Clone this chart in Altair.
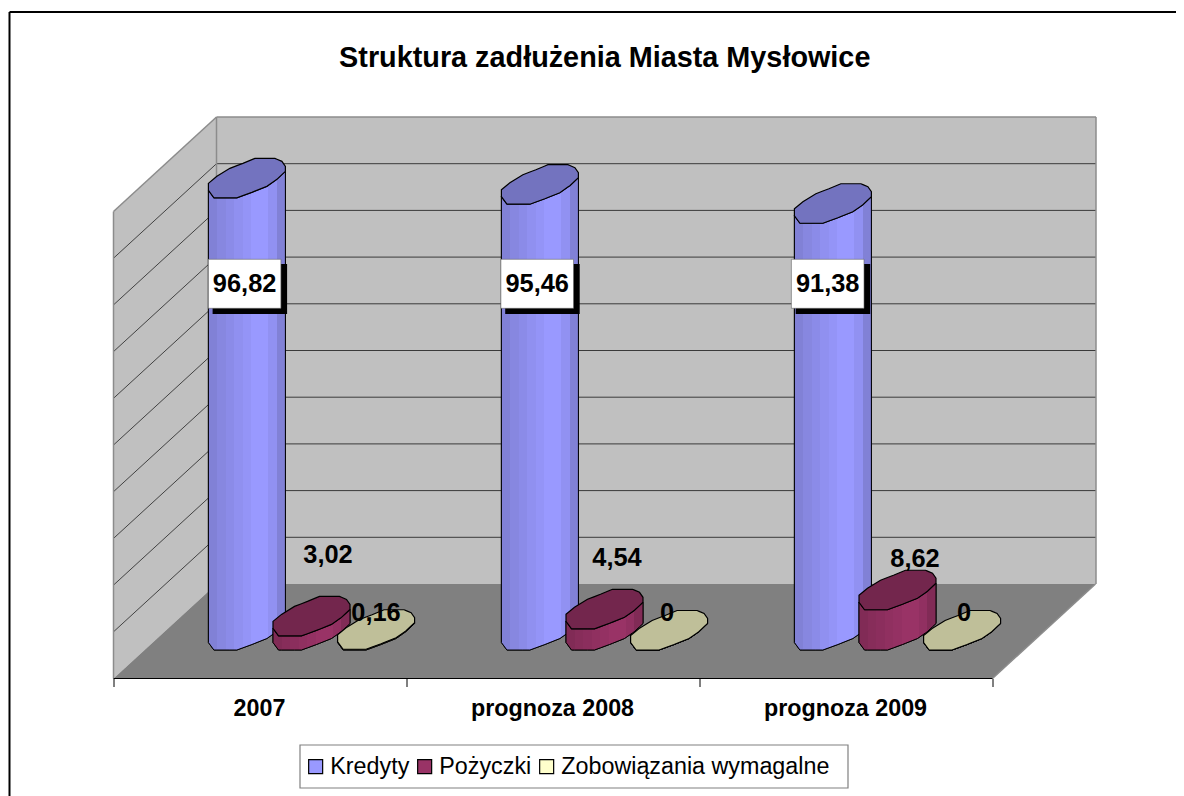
import altair as alt
import pandas as pd

categories = ["2007", "prognoza 2008", "prognoza 2009"]
series_names = ["Kredyty", "Pożyczki", "Zobowiązania wymagalne"]
kredyty = [96.82, 95.46, 91.38]
pozyczki = [3.02, 4.54, 8.62]
zobowiazania = [0.16, 0, 0]
series_values = [kredyty, pozyczki, zobowiazania]
title_text = "Struktura zadłużenia Miasta Mysłowice"

FONT = "Liberation Sans"
X0, STEP, Y0, UNIT = 113.5, 293.0, 584.0, 4.67
RIGHT, TOP, BOTTOM = 1096.0, 116.7, 678.5


def px(p):
    return (p - X0) / STEP


def py(p):
    return (Y0 - p) / UNIT


DX = px(216.5)            # depth shift of the back wall, in category units
DV = py(BOTTOM)           # depth shift of the front edge, in value units
x_dom = [0, px(RIGHT)]
y_dom = [DV, py(TOP)]

axis_x = alt.Axis(
    values=[0, 1, 2, 3], title=None, grid=False, domain=False, ticks=True,
    tickColor="#000000", tickSize=8, tickWidth=1, labelFont=FONT, labelFontSize=23.3,
    labelFontWeight="bold", labelColor="#000000", labelPadding=11, labelOffset=145.5,
    labelAlign="center", labelOverlap=False, labelFlush=False,
    labelExpr="datum.value < 3 ? ['2007','prognoza 2008','prognoza 2009'][datum.value] : ''",
)


def X(f="x"):
    return alt.X(f"{f}:Q", scale=alt.Scale(domain=x_dom, nice=False, zero=False), axis=axis_x)


def Y(f="y"):
    return alt.Y(f"{f}:Q", scale=alt.Scale(domain=y_dom, nice=False, zero=False), axis=None)


layers = []


def seg_layer(rows, color, width):
    return alt.Chart(pd.DataFrame(rows)).mark_rule(color=color, strokeWidth=width).encode(
        x=X(), x2="x2:Q", y=Y(), y2="y2:Q")


def area_layer(rows, **mark):
    return alt.Chart(pd.DataFrame(rows)).mark_area(orient="vertical", **mark).encode(
        x=X(), y=Y(), y2="y2:Q", detail="id:N")


# walls and floor
back = [{"id": 0, "x": DX, "y": 100, "y2": 0}, {"id": 0, "x": px(RIGHT), "y": 100, "y2": 0}]
left = [{"id": 0, "x": 0, "y": 100 + DV, "y2": DV}, {"id": 0, "x": DX, "y": 100, "y2": 0}]
floor = [
    {"id": 0, "x": 0, "y": DV, "y2": DV},
    {"id": 0, "x": DX, "y": 0, "y2": DV},
    {"id": 0, "x": 3, "y": 0, "y2": DV},
    {"id": 0, "x": 3 + DX, "y": 0, "y2": 0},
]
layers.append(area_layer(back, color="#C0C0C0"))
layers.append(area_layer(left, color="#C0C0C0"))
layers.append(area_layer(floor, color="#808080"))

grid_levels = list(range(10, 100, 10))
layers.append(seg_layer([{"x": DX, "x2": px(RIGHT), "y": v, "y2": v} for v in grid_levels], "#3a3a3a", 1))
layers.append(seg_layer([{"x": 0, "x2": DX, "y": v + DV, "y2": v} for v in grid_levels], "#222222", 0.8))
layers.append(seg_layer([
    {"x": 0, "x2": DX, "y": 100 + DV, "y2": 100},
    {"x": DX, "x2": px(RIGHT), "y": 100, "y2": 100},
    {"x": 0, "x2": 0, "y": 100 + DV, "y2": DV},
    {"x": DX, "x2": DX, "y": 100, "y2": 0},
    {"x": px(RIGHT), "x2": px(RIGHT), "y": 100, "y2": 0},
    {"x": 3, "x2": 3 + DX, "y": DV, "y2": 0},
], "#8c8c8c", 1.5))
layers.append(seg_layer([{"x": 0, "x2": 3, "y": DV, "y2": DV}], "#000000", 1))

# cylinders: outline of the tilted end cap, offsets in pixels from its centre
BASE = py(630.5)
GAP = 64.6 / STEP
cap_upper = [(-38.5, -5), (-30, 2), (-17, 10), (-4, 15), (8, 20), (28, 20), (35, 17), (38.5, 12)]
cap_lower = [(-38.5, -12), (-33, -19.5), (-10, -19.5), (5, -14), (20, -8), (30, -1), (38.5, 7)]


def interp(points, xv):
    for (a, b), (c, d) in zip(points, points[1:]):
        if a <= xv <= c:
            return b + (d - b) * (xv - a) / (c - a)
    return points[-1][1]


offsets = sorted({p[0] for p in cap_upper} | {p[0] for p in cap_lower})
base_colors = [(0x99, 0x99, 0xFF), (0x99, 0x33, 0x66), (0xFF, 0xFF, 0xCC)]
strip_factors = [0.84, 0.88, 0.91, 0.94, 0.97, 1.0, 1.0, 0.95, 0.84]
tops = ["#7373BF", "#73264D", "#BFBF99"]
color_scale = alt.Scale(domain=series_names, range=["#9999FF", "#993366", "#FFFFCC"])
legend = alt.Legend(
    title=None, orient="none", legendX=304 - X0, legendY=755 - TOP, direction="horizontal", columns=3,
    symbolType="square", symbolSize=196, symbolStrokeColor="#000000", symbolStrokeWidth=1.2, symbolOpacity=1,
    labelFont=FONT, labelFontSize=23.3, labelColor="#000000", labelOffset=3, columnPadding=3,
    padding=0, labelLimit=400, symbolOffset=0, zindex=1,
)


def strip_stops(rgb):
    stops = []
    n = len(strip_factors)
    for i, f in enumerate(strip_factors):
        col = "#%02X%02X%02X" % tuple(int(round(c * f)) for c in rgb)
        stops.append(alt.GradientStop(offset=i / n, color=col))
        stops.append(alt.GradientStop(offset=(i + 1) / n, color=col))
    return stops


for si, name in enumerate(series_names):
    body, top = [], []
    for ci, val in enumerate(series_values[si]):
        cx = ci + 0.5 + DX / 2 + (si - 1) * GAP
        for off in offsets:
            lo, hi = interp(cap_lower, off), interp(cap_upper, off)
            xv = cx + off / STEP
            body.append({"id": ci, "name": name, "x": xv,
                         "y": BASE + val + lo / UNIT, "y2": BASE + lo / UNIT})
            top.append({"id": ci, "x": xv, "y": BASE + val + hi / UNIT, "y2": BASE + val + lo / UNIT})
    flat = alt.Chart(pd.DataFrame(body)).mark_area(orient="vertical", stroke="#000000", strokeWidth=1).encode(
        x=X(), y=Y(), y2="y2:Q", detail="id:N",
        color=alt.Color("name:N", scale=color_scale, legend=legend))
    layers.append(flat)
    layers.append(area_layer(body, stroke="#000000", strokeWidth=1,
                             color=alt.LinearGradient(gradient="linear", x1=0, x2=1, y1=0, y2=0,
                                                      stops=strip_stops(base_colors[si]))))
    layers.append(area_layer(top, color=tops[si], stroke="#000000", strokeWidth=1.2))

# boxed labels of the first series
box_centers = [244.6, 537.2, 827.7]
shadow_rows = [{"x": px(c - 32), "x2": px(c + 42.5), "y": py(264), "y2": py(314)} for c in box_centers]
box_rows = [{"x": px(c - 36.3), "x2": px(c + 36.3), "y": py(259.3), "y2": py(308.3)} for c in box_centers]
layers.append(alt.Chart(pd.DataFrame(shadow_rows)).mark_rect(color="#000000").encode(
    x=X(), x2="x2:Q", y=Y(), y2="y2:Q"))
layers.append(alt.Chart(pd.DataFrame(box_rows)).mark_rect(color="#FFFFFF", stroke="#666666", strokeWidth=0.6).encode(
    x=X(), x2="x2:Q", y=Y(), y2="y2:Q"))


def fmt(v):
    return f"{v:g}".replace(".", ",")


label_rows = []
for c, v in zip(box_centers, kredyty):
    label_rows.append({"x": px(c), "y": py(284), "t": fmt(v)})
for (a, b), v in zip([(328, 555), (617, 558), (915, 559)], pozyczki):
    label_rows.append({"x": px(a), "y": py(b), "t": fmt(v)})
for (a, b), v in zip([(376, 613), (667, 613), (964, 613)], zobowiazania):
    label_rows.append({"x": px(a), "y": py(b), "t": fmt(v)})
layers.append(alt.Chart(pd.DataFrame(label_rows)).mark_text(
    font=FONT, fontSize=25.4, fontWeight="bold", color="#000000", align="center", baseline="middle"
).encode(x=X(), y=Y(), text="t:N"))

# legend frame
layers.append(alt.Chart(pd.DataFrame([{"x": px(300), "x2": px(848), "y": py(745), "y2": py(788)}])).mark_rect(
    color="#FFFFFF", stroke="#808080", strokeWidth=1.2).encode(x=X(), x2="x2:Q", y=Y(), y2="y2:Q"))

# outer frame
layers.append(seg_layer([
    {"x": px(9.5), "x2": px(1176), "y": py(12), "y2": py(12)},
    {"x": px(9.5), "x2": px(9.5), "y": py(12), "y2": py(796)},
], "#000000", 2))

chart = alt.layer(*layers).resolve_scale(color="shared").properties(
    width=RIGHT - X0,
    height=BOTTOM - TOP,
    padding={"left": X0 - 8, "top": TOP - 8, "right": 1176 - RIGHT, "bottom": 796 - BOTTOM},
    autosize=alt.AutoSizeParams(type="none"),
    background="#FFFFFF",
    title=alt.Title(title_text, font=FONT, fontSize=28.8, fontWeight="bold", color="#000000",
                    anchor="middle", offset=-62),
).configure_view(stroke=None)

chart.save("out.html", embed_options={"renderer": "svg", "actions": False})
